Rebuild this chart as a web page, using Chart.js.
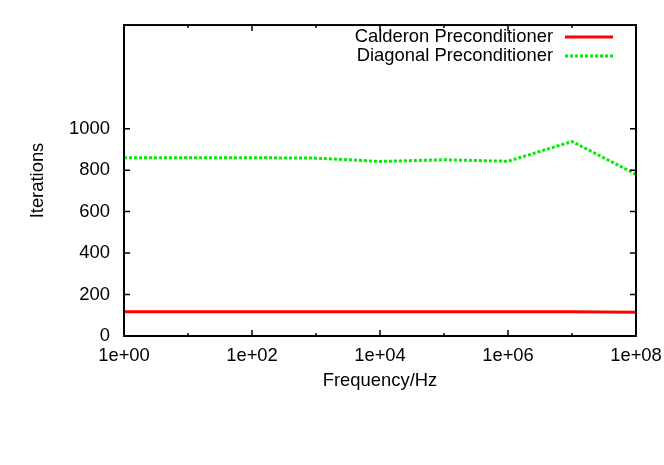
<!DOCTYPE html>
<html>
<head>
<meta charset="utf-8">
<script src="https://cdn.jsdelivr.net/npm/chart.js@4"></script>
<style>
  html, body { margin: 0; padding: 0; background: #fff; }
  #wrap { width: 664px; height: 465px; }
</style>
</head>
<body>
<div id="wrap"><canvas id="chart1"></canvas></div>
<script>
const freqs = [1, 10, 100, 1e3, 1e4, 1e5, 1e6, 1e7, 1e8];
const calderon = [117, 117, 117, 117, 117, 117, 117, 117, 115];
const diagonal = [860, 860, 860, 858, 842, 850, 843, 938, 780];
const xTicks = [1, 10, 100, 1e3, 1e4, 1e5, 1e6, 1e7, 1e8];
const yTicks = [0, 200, 400, 600, 800, 1000];

const FONT = "'Liberation Sans', Arial, sans-serif";
const FSIZE = 18.4;
Chart.defaults.font.family = FONT;
Chart.defaults.font.size = FSIZE;
Chart.defaults.color = '#000';

// gnuplot style frame, inward ticks (mirrored) and legend
const gnuplotFrame = {
    id: 'gnuplotFrame',
    afterDraw(chart) {
        const ctx = chart.ctx;
        const a = chart.chartArea;
        const xs = chart.scales.x, ys = chart.scales.y;
        ctx.save();
        ctx.strokeStyle = '#000';
        ctx.lineWidth = 2;
        ctx.strokeRect(a.left, a.top, a.right - a.left, a.bottom - a.top);
        ctx.lineWidth = 1.5;
        ctx.beginPath();
        xTicks.forEach(v => {
            const px = xs.getPixelForValue(v);
            const len = Math.round(Math.log10(v)) % 2 === 0 ? 6 : 3;
            ctx.moveTo(px, a.bottom); ctx.lineTo(px, a.bottom - len);
            ctx.moveTo(px, a.top); ctx.lineTo(px, a.top + len);
        });
        yTicks.forEach(v => {
            const py = ys.getPixelForValue(v);
            ctx.moveTo(a.left, py); ctx.lineTo(a.left + 6, py);
            ctx.moveTo(a.right, py); ctx.lineTo(a.right - 6, py);
        });
        ctx.stroke();

        // legend: text right-aligned, sample line to the right
        ctx.font = FSIZE + 'px ' + FONT;
        ctx.textAlign = 'right';
        ctx.textBaseline = 'middle';
        chart.data.datasets.forEach((ds, i) => {
            const y = 37 + i * 19;
            ctx.fillStyle = '#000';
            ctx.fillText(ds.label, 553, y);
            ctx.strokeStyle = ds.borderColor;
            ctx.lineWidth = ds.borderWidth;
            ctx.setLineDash(ds.borderDash || []);
            ctx.beginPath();
            ctx.moveTo(565, y);
            ctx.lineTo(613, y);
            ctx.stroke();
        });
        ctx.restore();
    }
};

new Chart("chart1", {
    type: "line",
    data: {
        labels: freqs,
        datasets: [{
            label: 'Calderon Preconditioner',
            data: calderon.map((v, i) => ({x: freqs[i], y: v})),
            borderColor: '#ff0000',
            borderWidth: 3,
            pointRadius: 0,
            tension: 0
        }, {
            label: 'Diagonal Preconditioner',
            data: diagonal.map((v, i) => ({x: freqs[i], y: v})),
            borderColor: '#00ee00',
            borderWidth: 3,
            borderDash: [3, 2],
            pointRadius: 0,
            tension: 0
        }]
    },
    options: {
        responsive: true,
        maintainAspectRatio: false,
        animation: false,
        layout: { padding: { left: 0, right: 28, top: 22, bottom: 69 } },
        plugins: {
            legend: { display: false },
            tooltip: { enabled: false }
        },
        scales: {
            x: {
                type: 'logarithmic',
                min: 1,
                max: 1e8,
                grid: { display: false, drawTicks: false },
                border: { display: false },
                afterBuildTicks: s => { s.ticks = xTicks.map(v => ({value: v})); },
                afterFit: s => { s.height = 60; s.paddingLeft = 0; s.paddingRight = 0; },
                ticks: {
                    autoSkip: false,
                    maxRotation: 0,
                    padding: 9,
                    callback: v => {
                        const e = Math.round(Math.log10(v));
                        return e % 2 === 0 ? '1e+' + String(e).padStart(2, '0') : '';
                    }
                },
                title: { display: true, text: 'Frequency/Hz', padding: { top: 4, bottom: 4 } }
            },
            y: {
                min: 0,
                max: 1500,
                grid: { display: false, drawTicks: false },
                border: { display: false },
                afterBuildTicks: s => { s.ticks = yTicks.map(v => ({value: v})); },
                afterFit: s => { s.width = 124; },
                ticks: { padding: 14, callback: v => String(v) },
                title: { display: true, text: 'Iterations', padding: { top: 27, bottom: 4 } }
            }
        }
    },
    plugins: [gnuplotFrame]
});
</script>
</body>
</html>
